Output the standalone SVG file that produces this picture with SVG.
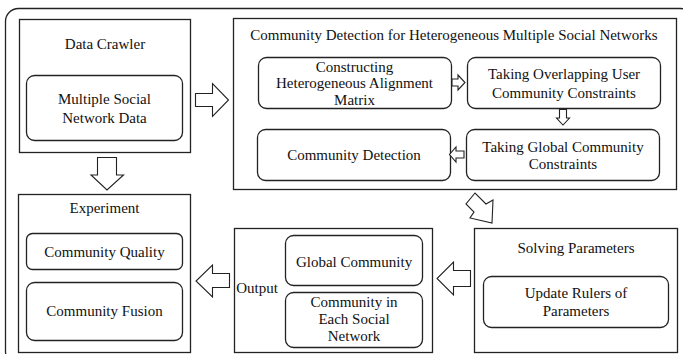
<svg xmlns="http://www.w3.org/2000/svg" width="683" height="354" viewBox="0 0 683 354">
<style>
.frame{fill:none;stroke:#222;stroke-width:1.3}
.box{fill:#fff;stroke:#222;stroke-width:1.3}
.rbox{fill:#fff;stroke:#222;stroke-width:1.3}
.arr{fill:#fff;stroke:#222;stroke-width:1.1;stroke-linejoin:miter}
text{font-family:"Liberation Serif","Times New Roman",serif;font-size:15px;fill:#111;text-anchor:middle}
</style>
<rect x="0" y="0" width="683" height="354" fill="#fff"/>
<rect class="frame" x="5.5" y="8.5" width="688" height="356" rx="13"/>

<g id="data-crawler">
<rect class="box" x="19.5" y="19.5" width="171" height="133"/>
<text x="105" y="49">Data Crawler</text>
<rect class="rbox" x="26.5" y="75.5" width="156" height="65" rx="8"/>
<text x="104.5" y="104">Multiple Social</text>
<text x="104.5" y="123">Network Data</text>
</g>

<g id="community-detection-module">
<rect class="box" x="233.5" y="18.5" width="443" height="171"/>
<text x="454" y="40">Community Detection for Heterogeneous Multiple Social Networks</text>
</g>
<g id="constructing">
<rect class="rbox" x="258.5" y="57.5" width="193" height="51" rx="8"/>
<text x="354.5" y="72">Constructing</text>
<text x="354.5" y="88">Heterogeneous Alignment</text>
<text x="354.5" y="105">Matrix</text>
</g>
<g id="overlapping">
<rect class="rbox" x="467.5" y="57.5" width="193" height="51" rx="8"/>
<text x="564" y="79">Taking Overlapping User</text>
<text x="564" y="98">Community Constraints</text>
</g>
<g id="community-detection">
<rect class="rbox" x="257.5" y="129.5" width="193" height="51" rx="8"/>
<text x="354" y="160">Community Detection</text>
</g>
<g id="global-constraints">
<rect class="rbox" x="466.5" y="129.5" width="193" height="51" rx="8"/>
<text x="563" y="152">Taking Global Community</text>
<text x="563" y="169">Constraints</text>
</g>

<g id="experiment">
<rect class="box" x="18.5" y="194.5" width="172" height="158"/>
<text x="104.5" y="213">Experiment</text>
<rect class="rbox" x="26.5" y="233.5" width="156" height="36" rx="6"/>
<text x="104.5" y="257">Community Quality</text>
<rect class="rbox" x="26.5" y="282.5" width="156" height="58" rx="8"/>
<text x="104.5" y="316">Community Fusion</text>
</g>

<g id="output">
<rect class="box" x="234.5" y="228.5" width="198" height="124"/>
<text x="257" y="293">Output</text>
<rect class="rbox" x="285.5" y="235.5" width="137" height="50" rx="8"/>
<text x="354" y="267">Global Community</text>
<rect class="rbox" x="285.5" y="292.5" width="137" height="55" rx="8"/>
<text x="354" y="307">Community in</text>
<text x="354" y="324">Each Social</text>
<text x="354" y="341">Network</text>
</g>

<g id="solving-parameters">
<rect class="box" x="474.5" y="228.5" width="203" height="124"/>
<text x="576" y="253">Solving Parameters</text>
<rect class="rbox" x="483.5" y="276.5" width="185" height="51" rx="8"/>
<text x="576" y="298">Update Rulers of</text>
<text x="576" y="316">Parameters</text>
</g>

<g id="connectors">
<path class="arr" d="M195.5,93.5 H212.5 V83.5 L228.5,100 L212.5,116.5 V106.5 H195.5 Z"/>
<path class="arr" d="M97.5,157.5 V175 H91 L107,190 L123.5,175 H116.5 V157.5 Z"/>
<path class="arr" d="M452,79 H458 V75 L465,82.5 L458,90 V86 H452 Z"/>
<path class="arr" d="M559.5,109.5 V118 H556.5 L563,125 L569.5,118 H566.5 V109.5 Z"/>
<path class="arr" d="M464,151 H456 V147 L449.5,154.5 L456,162 V158 H464 Z"/>
<path class="arr" d="M475,193 L466,204 L474,212 L470,218 L492,223 L493,200 L486,204 Z"/>
<path class="arr" d="M470.5,270.5 H453.5 V262 L437,278.5 L453.5,295 V286.5 H470.5 Z"/>
<path class="arr" d="M229.5,273.5 H212.5 V265 L196,281 L212.5,297 V287.5 H229.5 Z"/>
</g>
</svg>
